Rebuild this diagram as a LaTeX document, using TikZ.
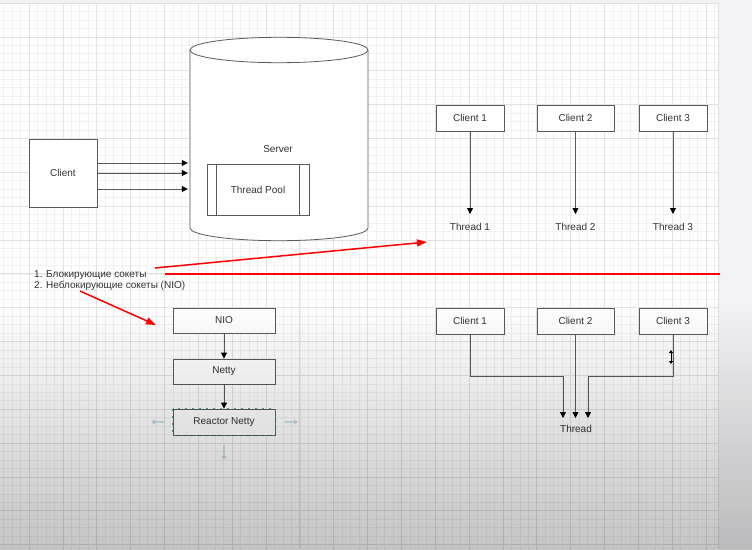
\documentclass[tikz,border=0pt]{standalone}
\usepackage{fontspec}
\setmainfont{Liberation Sans}
\usetikzlibrary{arrows.meta}
\definecolor{linec}{HTML}{5A5A5A}
\definecolor{txtc}{HTML}{333333}
\definecolor{gridminor}{HTML}{F1F1F1}
\definecolor{gridmajor}{HTML}{E2E2E2}
\definecolor{redc}{HTML}{FF0000}
\definecolor{selc}{HTML}{2E9C9C}
\definecolor{hoverc}{HTML}{8FBFD6}
\definecolor{sidec}{HTML}{F3F3F5}
\definecolor{shadebot}{HTML}{C4C4C4}
\begin{document}
\begin{tikzpicture}[x=1pt,y=-1pt,
  box/.style={draw=linec, line width=0.8pt, fill=white, text=txtc,
    font=\fontsize{10}{12}\selectfont, minimum height=26pt, inner sep=0pt},
  lbl/.style={text=txtc, font=\fontsize{10}{12}\selectfont, inner sep=0pt},
  thrlbl/.style={lbl, inner ysep=8pt, text height=7.2pt, text depth=0pt},
  arr/.style={draw=linec, line width=0.8pt, -{Triangle[length=6pt,width=6pt,color=black]}},
  redarr/.style={draw=redc, line width=1.5pt, -{Triangle[length=10pt,width=7pt]}},
  redline/.style={draw=redc, line width=1.5pt},
  hover/.style={draw=hoverc, line width=1.5pt, opacity=0.45, -{Triangle[length=4pt,width=5pt]}},
  cursorarr/.style={draw=black, line width=1pt, {Triangle[length=3pt,width=4pt]}-{Triangle[length=3pt,width=4pt]}},
]
\useasboundingbox (0,0) rectangle (752,549);
% background
\fill[white] (0,0) rectangle (752,549);
\fill[sidec] (718,0) rectangle (752,549);
\fill[sidec] (0,0) rectangle (718,3);
\foreach \i in {-3,...,81} {\draw[gridminor, line width=0.6pt] ({29+\i*8.4625},3) -- ({29+\i*8.4625},549);}
\foreach \j in {0,...,64} {\draw[gridminor, line width=0.6pt] (0,{3+\j*8.4625}) -- (718,{3+\j*8.4625});}
\foreach \i in {0,...,20} {\draw[gridmajor, line width=0.7pt] ({29+\i*33.85},3) -- ({29+\i*33.85},549);}
\foreach \j in {0,...,16} {\draw[gridmajor, line width=0.7pt] (0,{3+\j*33.85}) -- (718,{3+\j*33.85});}
\draw[black!12, line width=0.8pt] (0,3) -- (718,3) -- (718,549);

% ---------- top left: client and server ----------
\node[box, minimum width=68pt, minimum height=68pt] (client) at (63,173) {Client};
\path[fill=white, draw=linec, line width=0.8pt] (190,50) -- (190,228)
  arc[start angle=180, end angle=0, x radius=89, y radius=12.7] -- (368,50);
\path[fill=white, draw=linec, line width=0.8pt] (279,50) ellipse [x radius=89, y radius=12.7];
\node[minimum width=178pt, minimum height=190pt, inner sep=0pt] (server) at (279,140) {};
\node[lbl] (srvlbl) at (278,149) {Server};
\node[box, minimum width=102pt, minimum height=51pt] (pool) at (258,189.5) {Thread Pool};
\draw[linec, line width=0.8pt] ([xshift=10pt]pool.north west) -- ([xshift=10pt]pool.south west);
\draw[linec, line width=0.8pt] ([xshift=-10pt]pool.north east) -- ([xshift=-10pt]pool.south east);
\draw[arr] (client.east |- 0,163) -- ([xshift=-2pt]server.west |- 0,163);
\draw[arr] (client.east |- 0,173) -- ([xshift=-2pt]server.west |- 0,173);
\draw[arr] (client.east |- 0,189) -- ([xshift=-2pt]server.west |- 0,189);

% ---------- top right: one thread per client ----------
\node[box, minimum width=68pt] (tc1) at (470,118) {Client 1};
\node[box, minimum width=77pt] (tc2) at (575.5,118) {Client 2};
\node[box, minimum width=68pt] (tc3) at (673,118) {Client 3};
\node[thrlbl, anchor=north, inner ysep=9pt] (th1) at (470,214) {Thread 1};
\node[thrlbl, anchor=north, inner ysep=9pt] (th2) at (575.5,214) {Thread 2};
\node[thrlbl, anchor=north, inner ysep=9pt] (th3) at (673,214) {Thread 3};
\draw[arr] (tc1) -- (th1);
\draw[arr] (tc2) -- (th2);
\draw[arr] (tc3) -- (th3);

% ---------- list and red marks ----------
\node[lbl, anchor=north west, align=left, font=\fontsize{10}{11.6}\selectfont] (list) at (34,270)
  {1. Блокирующие сокеты\\2. Неблокирующие сокеты (NIO)};
\coordinate (r1s) at (155,268);
\coordinate (r1e) at (427,242);
\coordinate (r2s) at (165,274);
\coordinate (r2e) at (720,274);
\coordinate (r3s) at (80,291);
\coordinate (r3e) at (156,325);
\draw[redarr] (r1s) -- (r1e);
\draw[redline] (r2s) -- (r2e);
\draw[redarr] (r3s) -- (r3e);

% ---------- bottom left: NIO stack ----------
\node[box, minimum width=102pt, minimum height=25pt] (nio) at (224,320.5) {NIO};
\node[box, minimum width=102pt, minimum height=25pt] (netty) at (224,371.5) {Netty};
\node[box, minimum width=102pt, minimum height=26pt] (reactor) at (224,422) {Reactor Netty};
\draw[arr] (nio) -- (netty);
\draw[arr] (netty) -- (reactor);
\draw[selc, line width=1pt, dash pattern=on 2pt off 5pt, opacity=0.85]
  (reactor.north west) rectangle (reactor.south east);
\coordinate (hla) at (164,422);
\coordinate (hlb) at (151,422);
\coordinate (hra) at (285,422);
\coordinate (hrb) at (298,422);
\coordinate (hba) at (224,445);
\coordinate (hbb) at (224,460);
\draw[hover] (hla) -- (hlb);
\draw[hover] (hra) -- (hrb);
\draw[hover] (hba) -- (hbb);

% ---------- bottom right: clients sharing one thread ----------
\node[box, minimum width=68pt] (bc1) at (470,321) {Client 1};
\node[box, minimum width=77pt] (bc2) at (575.5,321) {Client 2};
\node[box, minimum width=68pt] (bc3) at (673,321) {Client 3};
\node[thrlbl, inner ysep=7pt, anchor=north] (thr) at (576,418) {Thread};
\draw[arr] (bc1.south) -- ++(0,42) -| ([xshift=-13pt]thr.north);
\draw[arr] (bc2.south) -- (bc2.south |- thr.north);
\draw[arr] (bc3.south) -- ++(0,42) -| ([xshift=12pt]thr.north);
\coordinate (cur1) at (671,350);
\coordinate (cur2) at (671,364);
\draw[cursorarr] (cur1) -- (cur2);

% ---------- bottom darkening ----------
\begin{scope}[blend mode=multiply]
  \shade[top color=white, bottom color=shadebot] (0,300) rectangle (752,549.5);
\end{scope}
\end{tikzpicture}
\end{document}
